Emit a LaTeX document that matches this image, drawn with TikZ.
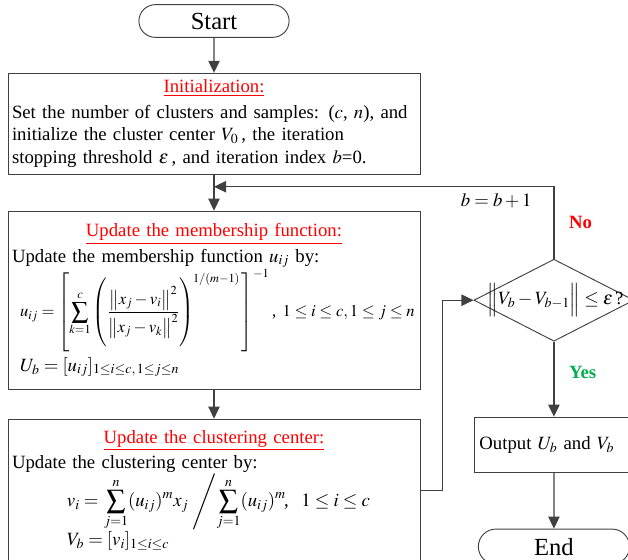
\documentclass[tikz,border=0pt]{standalone}
\usepackage{mathptmx}
\usepackage[no-math]{fontspec}
\setmainfont{Liberation Serif}
\usetikzlibrary{arrows.meta, positioning, shapes}
\usepackage{xcolor}
\definecolor{flowline}{HTML}{404040}
\definecolor{titlered}{HTML}{FF0000}
\definecolor{yesgreen}{HTML}{00B050}

\newcommand{\steptitle}[1]{{\centering\textcolor{titlered}{\underline{#1}}\par}\vspace{2pt}}
\newcommand{\tallstrut}[1]{\vrule height #1 depth #1 width 0pt}

\begin{document}
\begin{tikzpicture}[
    font=\fontsize{16}{19.5}\selectfont,
    node distance=1cm and 1.6cm,
    box/.style={draw=flowline, line width=0.8pt, text width=12.12cm, align=left,
                inner xsep=0.12cm, inner ysep=0pt, minimum height=#1},
    terminal/.style={draw=flowline, line width=0.8pt, rounded rectangle,
                     minimum width=4.74cm, minimum height=0.98cm,
                     font=\fontsize{21}{24}\selectfont},
    decision/.style={draw=flowline, line width=0.8pt, diamond, inner sep=0pt,
                     minimum width=4.8cm, minimum height=2.46cm},
    outbox/.style={draw=flowline, line width=0.8pt, text width=4.47cm, align=left,
                   inner xsep=0.15cm, minimum height=1.65cm},
    arr/.style={-{Triangle[length=0.36cm, width=0.34cm]}, flowline, line width=1pt},
  ]
    \useasboundingbox (0,0) rectangle (18.84,-16.8);

    \node[terminal] (start) at (6.42,-0.63) {Start};
    \node[box=3.03cm, below=1.05cm of start] (init)
      {\steptitle{Initialization:}
       Set the number of clusters and samples: ($c$, $n$), and\par
       initialize the cluster center $V_0$\,, the iteration\par
       stopping threshold $\varepsilon$\,, and iteration index $b$=0.};
    \node[box=5.34cm, below=1.08cm of init] (memb)
      {\steptitle{Update the membership function:}
       Update the membership function $u_{ij}$ by:\par
       {\fontsize{14.2}{17}\selectfont
       \mbox{\hspace*{0.24cm}$\displaystyle u_{ij}=\left[\tallstrut{1.05cm}\sum_{k=1}^{c}\left(\tallstrut{0.9cm}\frac{\left\|x_j-v_i\right\|^2}{\left\|x_j-v_k\right\|^2}\right)^{\!1/(m-1)}\mkern2mu\right]^{-1}$\,, $1\le i\le c, 1\le j\le n$}\par}
       \vspace{3pt}\hspace*{0.24cm}$U_b=[u_{ij}]_{1\le i\le c,\,1\le j\le n}$};
    \node[box=4.26cm, below=0.87cm of memb] (clust)
      {\steptitle{Update the clustering center:}
       Update the clustering center by:\par
       \mbox{\hspace*{1.65cm}$\displaystyle v_i=\left.\sum_{j=1}^{n}(u_{ij})^m x_j\;\middle/\sum_{j=1}^{n}(u_{ij})^m\right.$\!,~ $1\le i\le c$}\par
       \hspace*{1.65cm}$V_b=[v_i]_{1\le i\le c}$};

    \node[decision, right=1.59cm of memb] (dec)
      {\makebox[0pt]{\hspace*{0.1cm}$\Bigl\|V_b-V_{b-1}\Bigr\|\le\varepsilon\,$?}};
    \node[outbox, below=2.25cm of dec] (out) {Output $U_b$ and $V_b$};
    \node[terminal, minimum width=4.77cm, minimum height=1.05cm, below=1.68cm of out] (end) {End};

    \coordinate[below=0.36cm of init.south] (back);

    \draw[arr] (start) -- (init);
    \draw[arr] (init) -- (memb);
    \draw[arr] (memb) -- (clust);
    \draw[arr] (clust.east) -- ++(0.66,0) |- (dec.west);
    \draw[arr] (dec.north) |- node[pos=0.585, below=2pt, text=black] {$b=b+1$}
      node[pos=0.25, right=0.32cm, titlered, font=\fontsize{16}{19}\selectfont\bfseries] {No} (back);
    \draw[arr] (dec) -- node[pos=0.41, right=0.32cm, yesgreen, font=\fontsize{16}{19}\selectfont\bfseries] {Yes} (out);
    \draw[arr] (out) -- (end);
  \end{tikzpicture}
\end{document}
